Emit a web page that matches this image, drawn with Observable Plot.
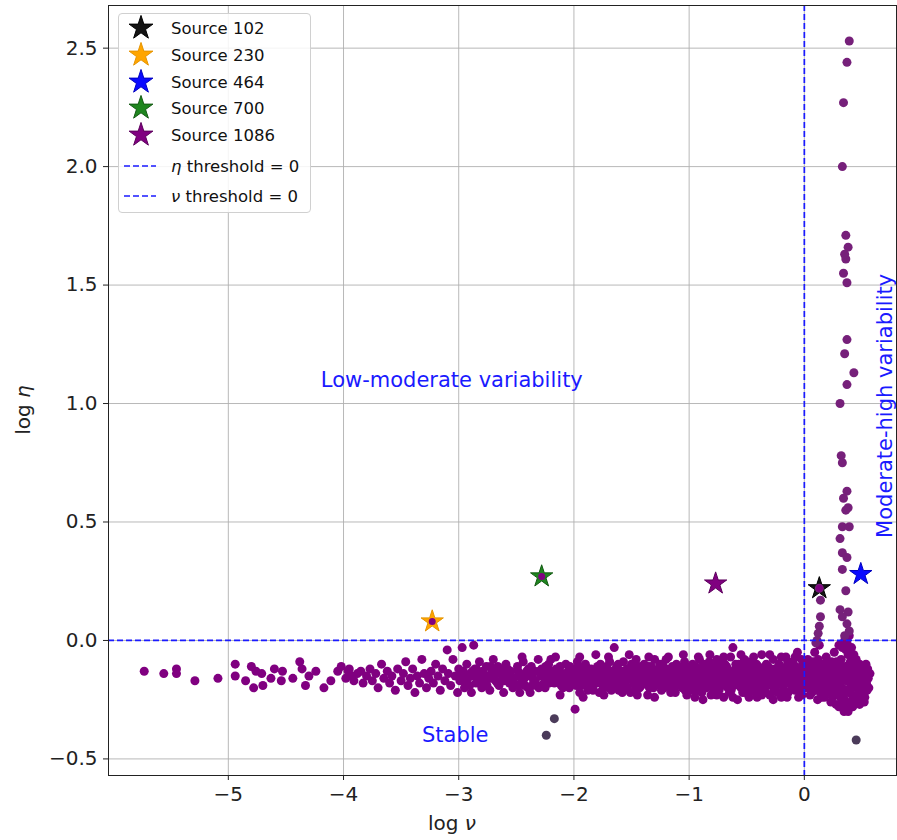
<!DOCTYPE html>
<html>
<head>
<meta charset="utf-8">
<script src="https://cdn.jsdelivr.net/npm/d3@7"></script>
<script src="https://cdn.jsdelivr.net/npm/@observablehq/plot@0.6"></script>
<style>
  body { margin: 0; background: #fff; font-family: "DejaVu Sans", sans-serif; }
  #wrap { position: relative; width: 897px; height: 840px; }
  #legend { position: absolute; left: 118px; top: 13px; width: 193px; height: 200px;
    border: 1px solid #d0d0d0; border-radius: 4px; background: rgba(255,255,255,0.85);
    box-sizing: border-box; font-size: 16.5px; color: #111; }
  .row { position: absolute; left: 0; height: 26px; display: flex; align-items: center; }
  .row svg { width: 44px; height: 26px; }
  .row span { margin-left: 8px; white-space: nowrap; }
</style>
</head>
<body>
<div id="wrap"></div>
<script>
// ---- data ----
const xTicks = [-5, -4, -3, -2, -1, 0];
const yTicks = [-0.5, 0, 0.5, 1, 1.5, 2, 2.5];

const sourceNames = ["Source 102", "Source 230", "Source 464", "Source 700", "Source 1086"];
const sourceNu = [0.13, -3.23, 0.49, -2.28, -0.77];
const sourceEta = [0.22, 0.08, 0.28, 0.27, 0.24];
const sourceFill = ["#141414", "#ffa500", "#0a0aff", "#1f861f", "#800080"];
const sourceStroke = ["#000000", "#e59400", "#0000c0", "#135a13", "#5c005c"];

const thresholdEta = 0;
const thresholdNu = 0;

// sparse low-ν tail
const tailPoints = [[-5.73,-0.13],[-5.56,-0.14],[-5.45,-0.12],[-5.45,-0.14],[-5.29,-0.17],[-5.09,-0.16],[-4.94,-0.10],[-4.94,-0.15],[-4.85,-0.17],[-4.80,-0.11],[-4.78,-0.20],[-4.76,-0.13],[-4.71,-0.14],[-4.70,-0.19],[-4.63,-0.16],[-4.60,-0.12],[-4.53,-0.13],[-4.54,-0.17],[-4.44,-0.16],[-4.38,-0.09],[-4.36,-0.12],[-4.33,-0.19],[-4.30,-0.15],[-4.24,-0.13],[-4.17,-0.20],[-4.11,-0.17],[-4.05,-0.13],[-4.02,-0.11],[-3.96,-0.13],[-3.93,-0.15]];

const bandA = [[-3.98,-0.16],[-3.95,-0.12],[-3.91,-0.17],[-3.88,-0.14],[-3.85,-0.13],[-3.83,-0.18],[-3.80,-0.15],[-3.77,-0.12],[-3.75,-0.17],[-3.72,-0.14],[-3.70,-0.20],[-3.67,-0.10],[-3.65,-0.16],[-3.62,-0.13],[-3.60,-0.18],[-3.58,-0.15],[-3.55,-0.21],[-3.53,-0.12],[-3.50,-0.17],[-3.48,-0.14],[-3.46,-0.09],[-3.44,-0.19],[-3.42,-0.16],[-3.40,-0.12],[-3.38,-0.22],[-3.36,-0.15],[-3.34,-0.18],[-3.32,-0.08],[-3.30,-0.14],[-3.28,-0.20],[-3.26,-0.16],[-3.24,-0.13],[-3.22,-0.18],[-3.20,-0.10],[-3.18,-0.15],[-3.16,-0.21],[-3.14,-0.12],[-3.12,-0.17],[-3.10,-0.04],[-3.09,-0.14],[-3.07,-0.19],[-3.05,-0.08],[-3.03,-0.15],[-3.01,-0.22],[-3.00,-0.12]];

const bandB = [[-2.99,-0.17],[-2.97,-0.03],[-2.96,-0.13],[-2.95,-0.20],[-2.93,-0.10],[-2.92,-0.16],[-2.90,-0.14],[-2.89,-0.22],[-2.87,-0.02],[-2.86,-0.12],[-2.85,-0.18],[-2.83,-0.15],[-2.82,-0.09],[-2.80,-0.20],[-2.79,-0.13],[-2.77,-0.17],[-2.76,-0.11],[-2.74,-0.15],[-2.73,-0.21],[-2.71,-0.13],[-2.70,-0.08],[-2.68,-0.17],[-2.67,-0.14],[-2.65,-0.19],[-2.64,-0.12],[-2.62,-0.16],[-2.61,-0.22],[-2.59,-0.10],[-2.58,-0.15],[-2.56,-0.18],[-2.55,-0.13],[-2.53,-0.20],[-2.52,-0.16],[-2.47,-0.22],[-2.49,-0.11],[-2.47,-0.14],[-2.46,-0.18],[-2.44,-0.09],[-2.43,-0.16],[-2.41,-0.13],[-2.40,-0.20],[-2.38,-0.15],[-2.37,-0.11],[-2.35,-0.17],[-2.34,-0.13],[-2.32,-0.19],[-2.31,-0.08],[-2.29,-0.15],[-2.28,-0.12],[-2.26,-0.18],[-2.25,-0.20],[-2.23,-0.14],[-2.22,-0.10],[-2.20,-0.16],[-2.19,-0.13],[-2.17,-0.18],[-2.16,-0.07],[-2.14,-0.15],[-2.13,-0.12],[-2.11,-0.19],[-2.10,-0.14],[-2.08,-0.17],[-2.07,-0.10],[-2.05,-0.13],[-2.04,-0.20],[-2.02,-0.16],[-2.01,-0.12],
[-2.98,-0.15],[-2.94,-0.18],[-2.88,-0.13],[-2.84,-0.16],[-2.78,-0.19],[-2.72,-0.16],[-2.66,-0.11],[-2.60,-0.14],[-2.54,-0.16],[-2.48,-0.19],[-2.42,-0.14],[-2.36,-0.19],[-2.30,-0.13],[-2.24,-0.16],[-2.18,-0.15],[-2.12,-0.11],[-2.06,-0.18],[-2.00,-0.15],
[-2.975,-0.14],[-2.935,-0.16],[-2.905,-0.19],[-2.875,-0.15],[-2.845,-0.12],[-2.815,-0.17],[-2.785,-0.14],[-2.755,-0.19],[-2.725,-0.11],[-2.695,-0.15],[-2.665,-0.18],[-2.635,-0.14],[-2.605,-0.17],[-2.575,-0.12],[-2.545,-0.15],[-2.515,-0.19],[-2.485,-0.13],[-2.455,-0.16],[-2.425,-0.19],[-2.395,-0.12],[-2.365,-0.15],[-2.335,-0.17],[-2.305,-0.20],[-2.275,-0.14],[-2.245,-0.11],[-2.215,-0.18],[-2.185,-0.15],[-2.155,-0.12],[-2.125,-0.17],[-2.095,-0.20],[-2.065,-0.15],[-2.035,-0.11],[-2.015,-0.18]];

const bandC = [[-1.99,-0.13],[-1.98,-0.19],[-1.97,-0.09],[-1.96,-0.16],[-1.95,-0.22],[-1.94,-0.12],[-1.93,-0.15],[-1.91,-0.18],[-1.90,-0.10],[-1.89,-0.14],[-1.88,-0.21],[-1.87,-0.17],[-1.85,-0.12],[-1.84,-0.15],[-1.83,-0.19],[-1.81,-0.06],[-1.80,-0.13],[-1.79,-0.17],[-1.78,-0.22],[-1.77,-0.10],[-1.75,-0.15],[-1.74,-0.12],[-1.73,-0.18],[-1.72,-0.14],[-1.70,-0.20],[-1.69,-0.09],[-1.68,-0.16],[-1.67,-0.13],[-1.65,-0.03],[-1.64,-0.18],[-1.63,-0.11],[-1.62,-0.15],[-1.61,-0.21],[-1.60,-0.13],[-1.58,-0.17],[-1.57,-0.09],[-1.56,-0.14],[-1.55,-0.19],[-1.54,-0.12],[-1.53,-0.16],[-1.51,-0.22],[-1.50,-0.10],[-1.49,-0.15],[-1.48,-0.18],[-1.47,-0.13],[-1.46,-0.08],[-1.44,-0.16],[-1.43,-0.20],[-1.42,-0.12],[-1.41,-0.14],[-1.40,-0.18],[-1.39,-0.10],[-1.38,-0.16],[-1.36,-0.23],[-1.35,-0.13],[-1.34,-0.17],[-1.33,-0.11],[-1.32,-0.15],[-1.31,-0.20],[-1.30,-0.08],[-1.28,-0.14],[-1.27,-0.18],[-1.26,-0.12],[-1.25,-0.16],[-1.24,-0.21],[-1.23,-0.10],[-1.21,-0.15],[-1.20,-0.13],[-1.19,-0.19],[-1.18,-0.07],[-1.17,-0.16],[-1.16,-0.12],[-1.14,-0.18],[-1.13,-0.14],[-1.12,-0.22],[-1.11,-0.10],[-1.10,-0.15],[-1.09,-0.17],[-1.07,-0.12],[-1.06,-0.20],[-1.05,-0.14],[-1.04,-0.09],[-1.03,-0.16],[-1.02,-0.19],[-1.01,-0.13],[-1.00,-0.17],
[-1.985,-0.15],[-1.945,-0.18],[-1.905,-0.13],[-1.865,-0.20],[-1.825,-0.14],[-1.785,-0.15],[-1.745,-0.20],[-1.705,-0.16],[-1.665,-0.19],[-1.625,-0.13],[-1.585,-0.15],[-1.545,-0.17],[-1.505,-0.13],[-1.465,-0.20],[-1.425,-0.16],[-1.385,-0.13],[-1.345,-0.20],[-1.305,-0.17],[-1.265,-0.14],[-1.225,-0.18],[-1.185,-0.15],[-1.145,-0.11],[-1.105,-0.19],[-1.065,-0.16],[-1.025,-0.11],
[-1.995,-0.17],[-1.975,-0.14],[-1.955,-0.11],[-1.935,-0.19],[-1.915,-0.15],[-1.895,-0.17],[-1.875,-0.12],[-1.855,-0.16],[-1.835,-0.21],[-1.815,-0.14],[-1.795,-0.11],[-1.775,-0.18],[-1.755,-0.13],[-1.735,-0.16],[-1.715,-0.11],[-1.695,-0.18],[-1.675,-0.21],[-1.655,-0.15],[-1.635,-0.17],[-1.615,-0.10],[-1.595,-0.19],[-1.575,-0.13],[-1.555,-0.16],[-1.535,-0.20],[-1.515,-0.15],[-1.495,-0.12],[-1.475,-0.17],[-1.455,-0.14],[-1.435,-0.11],[-1.415,-0.19],[-1.395,-0.15],[-1.375,-0.18],[-1.355,-0.11],[-1.335,-0.14],[-1.315,-0.12],[-1.295,-0.19],[-1.275,-0.16],[-1.255,-0.10],[-1.235,-0.14],[-1.215,-0.20],[-1.195,-0.12],[-1.175,-0.17],[-1.155,-0.14],[-1.135,-0.21],[-1.115,-0.16],[-1.095,-0.12],[-1.075,-0.18],[-1.055,-0.11],[-1.035,-0.21],[-1.015,-0.15]];

const bandD = [[-0.99,-0.14],[-0.98,-0.21],[-0.97,-0.10],[-0.96,-0.17],[-0.95,-0.24],[-0.94,-0.13],[-0.93,-0.16],[-0.92,-0.19],[-0.91,-0.08],[-0.90,-0.15],[-0.89,-0.22],[-0.88,-0.12],[-0.87,-0.18],[-0.86,-0.14],[-0.85,-0.20],[-0.84,-0.10],[-0.83,-0.16],[-0.82,-0.13],[-0.81,-0.23],[-0.80,-0.17],[-0.79,-0.11],[-0.78,-0.15],[-0.77,-0.19],[-0.76,-0.08],[-0.75,-0.14],[-0.74,-0.21],[-0.73,-0.12],[-0.72,-0.17],[-0.71,-0.15],[-0.70,-0.24],[-0.69,-0.10],[-0.68,-0.18],[-0.67,-0.13],[-0.66,-0.16],[-0.65,-0.22],[-0.64,-0.07],[-0.63,-0.14],[-0.62,-0.03],[-0.61,-0.19],[-0.60,-0.12],[-0.59,-0.16],[-0.58,-0.25],[-0.57,-0.10],[-0.56,-0.15],[-0.55,-0.20],[-0.54,-0.13],[-0.53,-0.17],[-0.52,-0.08],[-0.51,-0.22],[-0.50,-0.14],[-0.49,-0.11],[-0.48,-0.18],[-0.47,-0.15],[-0.46,-0.21],[-0.45,-0.09],[-0.44,-0.16],[-0.43,-0.13],[-0.42,-0.19],[-0.41,-0.24],[-0.40,-0.11],[-0.39,-0.15],[-0.38,-0.18],[-0.37,-0.06],[-0.36,-0.13],[-0.35,-0.21],[-0.34,-0.16],[-0.33,-0.10],[-0.32,-0.19],[-0.31,-0.14],[-0.30,-0.23],[-0.29,-0.12],[-0.28,-0.17],[-0.27,-0.08],[-0.26,-0.15],[-0.25,-0.20],[-0.24,-0.13],[-0.23,-0.18],[-0.22,-0.10],[-0.21,-0.16],[-0.20,-0.24],[-0.19,-0.12],[-0.18,-0.19],[-0.17,-0.14],[-0.16,-0.07],[-0.15,-0.17],[-0.14,-0.22],[-0.13,-0.11],[-0.12,-0.15],[-0.11,-0.19],[-0.10,-0.09],[-0.09,-0.13],[-0.08,-0.21],[-0.07,-0.16],[-0.06,-0.05],[-0.05,-0.12],[-0.04,-0.18],[-0.03,-0.14],[-0.02,-0.23],[-0.01,-0.10],[0.00,-0.17],
[-0.985,-0.18],[-0.945,-0.11],[-0.905,-0.20],[-0.865,-0.16],[-0.825,-0.09],[-0.785,-0.21],[-0.745,-0.17],[-0.705,-0.13],[-0.665,-0.20],[-0.625,-0.17],[-0.585,-0.14],[-0.545,-0.10],[-0.505,-0.19],[-0.465,-0.12],[-0.425,-0.22],[-0.385,-0.15],[-0.345,-0.12],[-0.305,-0.18],[-0.265,-0.21],[-0.225,-0.14],[-0.185,-0.16],[-0.145,-0.09],[-0.105,-0.18],[-0.065,-0.20],[-0.025,-0.08],
[-0.995,-0.16],[-0.975,-0.13],[-0.955,-0.19],[-0.935,-0.21],[-0.915,-0.12],[-0.895,-0.17],[-0.875,-0.10],[-0.855,-0.15],[-0.835,-0.19],[-0.815,-0.14],[-0.795,-0.12],[-0.775,-0.22],[-0.755,-0.16],[-0.735,-0.10],[-0.715,-0.19],[-0.695,-0.15],[-0.675,-0.11],[-0.655,-0.13],[-0.635,-0.21],[-0.615,-0.16],[-0.595,-0.10],[-0.575,-0.18],[-0.555,-0.13],[-0.535,-0.22],[-0.515,-0.16],[-0.495,-0.09],[-0.475,-0.20],[-0.455,-0.13],[-0.435,-0.17],[-0.415,-0.10],[-0.395,-0.21],[-0.375,-0.14],[-0.355,-0.17],[-0.335,-0.22],[-0.315,-0.11],[-0.295,-0.16],[-0.275,-0.19],[-0.255,-0.12],[-0.235,-0.22],[-0.215,-0.13],[-0.195,-0.16],[-0.175,-0.21],[-0.155,-0.11],[-0.135,-0.15],[-0.115,-0.13],[-0.095,-0.20],[-0.075,-0.11],[-0.055,-0.16],[-0.035,-0.21],[-0.015,-0.13],
[-0.97,-0.16],[-0.91,-0.15],[-0.85,-0.12],[-0.79,-0.18],[-0.73,-0.15],[-0.67,-0.18],[-0.61,-0.14],[-0.55,-0.17],[-0.49,-0.20],[-0.43,-0.15],[-0.37,-0.19],[-0.31,-0.17],[-0.25,-0.15],[-0.19,-0.19],[-0.13,-0.18],[-0.07,-0.13],[-0.01,-0.19]];

const bandE = [[0.01,-0.13],[0.02,-0.20],[0.03,-0.08],[0.04,-0.16],[0.05,-0.23],[0.06,-0.11],[0.07,-0.18],[0.08,-0.14],[0.09,-0.05],[0.10,-0.21],[0.11,-0.12],[0.12,-0.17],[0.13,-0.02],[0.14,-0.15],[0.15,-0.24],[0.16,-0.10],[0.17,-0.19],[0.18,-0.13],[0.19,-0.07],[0.20,-0.22],[0.21,-0.16],[0.22,-0.11],[0.23,-0.26],[0.24,-0.14],[0.25,-0.19],[0.26,-0.05],[0.27,-0.17],[0.28,-0.23],[0.29,-0.12],[0.30,-0.28],[0.31,-0.15],[0.32,-0.08],[0.33,-0.20],[0.34,-0.13],[0.35,-0.25],[0.36,-0.04],[0.37,-0.17],[0.38,-0.22],[0.39,-0.10],[0.40,-0.27],[0.41,-0.15],[0.42,-0.19],[0.43,-0.12],[0.44,-0.24],[0.45,-0.08],[0.46,-0.17],[0.47,-0.21],[0.48,-0.13],[0.49,-0.19],[0.50,-0.11],[0.51,-0.16],[0.52,-0.22],[0.53,-0.14],[0.54,-0.18],[0.55,-0.12],
[0.015,-0.17],[0.035,-0.12],[0.055,-0.19],[0.075,-0.09],[0.095,-0.16],[0.115,-0.25],[0.135,-0.20],[0.155,-0.13],[0.175,-0.24],[0.195,-0.15],[0.215,-0.20],[0.235,-0.09],[0.255,-0.12],[0.275,-0.27],[0.295,-0.19],[0.315,-0.24],[0.335,-0.16],[0.355,-0.11],[0.375,-0.28],[0.395,-0.18],[0.415,-0.23],[0.435,-0.16],[0.455,-0.20],[0.475,-0.26],[0.495,-0.15],[0.515,-0.19],[0.535,-0.10],[0.555,-0.16],[0.345,-0.30],[0.41,-0.03],[0.30,-0.02],[0.38,-0.06],
[0.025,-0.15],[0.065,-0.22],[0.105,-0.11],[0.145,-0.18],[0.185,-0.17],[0.225,-0.21],[0.265,-0.14],[0.305,-0.10],[0.325,-0.13],[0.365,-0.21],[0.405,-0.13],[0.445,-0.18],[0.485,-0.23],[0.525,-0.17],[0.545,-0.21],[0.285,-0.16],[0.245,-0.24],[0.205,-0.13],
[0.005,-0.10],[0.045,-0.20],[0.085,-0.12],[0.125,-0.14],[0.165,-0.16],[0.205,-0.18],[0.245,-0.11],[0.285,-0.21],[0.325,-0.25],[0.365,-0.14],[0.405,-0.20],[0.445,-0.11],[0.485,-0.17],[0.525,-0.24],[0.545,-0.14],
[0.02,-0.14],[0.06,-0.15],[0.10,-0.18],[0.14,-0.22],[0.18,-0.10],[0.22,-0.15],[0.26,-0.21],[0.30,-0.15],[0.34,-0.22],[0.38,-0.14],[0.42,-0.25],[0.46,-0.13],[0.50,-0.21],[0.54,-0.15],
[0.04,-0.09],[0.08,-0.20],[0.12,-0.08],[0.16,-0.21],[0.20,-0.09],[0.24,-0.18],[0.28,-0.09],[0.32,-0.17],[0.36,-0.26],[0.40,-0.09],[0.44,-0.14],[0.48,-0.10],[0.52,-0.13],
[0.33,-0.03],[0.35,0.00],[0.37,-0.01],[0.39,0.02],[0.43,-0.06]];

// upper and lower fringe of the dense band
const bandEdges = [[-2.45,-0.07],[-2.20,-0.08],[-1.95,-0.07],[-1.70,-0.07],[-1.52,-0.06],[-1.35,-0.07],[-1.20,-0.08],[-1.05,-0.06],[-0.92,-0.07],[-0.82,-0.06],[-0.70,-0.07],[-0.55,-0.06],[-0.44,-0.07],[-0.30,-0.06],[-0.20,-0.07],[-0.08,-0.07],
[-2.38,-0.22],[-2.12,-0.23],[-1.92,-0.24],[-1.74,-0.23],[-1.58,-0.22],[-1.45,-0.23],[-1.30,-0.24],[-1.16,-0.22],[-1.02,-0.23],[-0.88,-0.25],[-0.76,-0.23],[-0.62,-0.24],[-0.48,-0.24],[-0.37,-0.23],[-0.27,-0.25],[-0.15,-0.24],[-0.05,-0.24],
[0.42,-0.28],[0.48,-0.27],[0.52,-0.26],[0.38,-0.30],[0.33,-0.28],[0.56,-0.20],[0.57,-0.14]];

// streak under Source 102 and the high-η column
const streakPoints = [[0.14,0.17],[0.14,0.10],[0.13,0.06],[0.12,0.03],[0.11,0.00],[0.10,-0.01],[0.13,0.22],
[0.31,0.13],[0.38,0.12],[0.33,0.10],[0.37,0.07],[0.39,0.04],[0.35,0.02],[0.33,0.30],[0.36,0.21],[0.31,0.43],[0.33,0.37],[0.37,0.35],[0.33,0.48],[0.39,0.48],[0.37,0.63],[0.34,0.60],[0.38,0.56],[0.36,0.55],[0.32,0.78],[0.33,0.75],[0.31,1.00],
[0.37,1.08],[0.43,1.13],[0.35,1.21],[0.37,1.27],[0.37,1.51],[0.34,1.55],[0.36,1.61],[0.35,1.63],[0.38,1.66],[0.36,1.71],[0.33,2.00],[0.34,2.27],[0.37,2.44],[0.39,2.53]];

// source positions in the scatter (drawn on their stars)
const sourcePoints = [[0.13,0.22],[-3.23,0.08],[-2.28,0.27],[-0.77,0.24]];

const purpleOutliers = [[-1.99,-0.29]];
const darkOutliers = [[-2.24,-0.40],[-2.17,-0.33],[0.45,-0.42]];

const annotations = [
  {nu: -3.06, eta: 1.10, text: "Low-moderate variability", rotate: 0},
  {nu: -3.03, eta: -0.40, text: "Stable", rotate: 0},
  {nu: 0.70, eta: 0.99, text: "Moderate-high variability", rotate: -90}
];

// ---- chart ----
const toRows = arr => arr.map(([nu, eta]) => ({nu, eta}));
const mainRows = toRows([...tailPoints, ...bandA, ...bandB, ...bandC, ...bandD, ...bandE, ...bandEdges, ...purpleOutliers]);
const columnRows = toRows(streakPoints);
const fmt = d3.format(".1f");

const starMarks = sourceNames.map((name, i) =>
  Plot.dot([{nu: sourceNu[i], eta: sourceEta[i]}], {
    x: "nu", y: "eta", symbol: "star", r: 7,
    fill: sourceFill[i], stroke: sourceStroke[i], strokeWidth: 1
  })
);

const plot = Plot.plot({
  width: 897, height: 840,
  marginLeft: 108, marginRight: 1, marginTop: 5, marginBottom: 65,
  style: {fontFamily: "DejaVu Sans, sans-serif", fontSize: "20px", color: "#222", background: "transparent"},
  x: {domain: [-6.04, 0.80], label: null},
  y: {domain: [-0.57, 2.68], label: null},
  marks: [
    Plot.gridX(xTicks, {stroke: "#b0b0b0", strokeOpacity: 1, strokeWidth: 0.9}),
    Plot.gridY(yTicks, {stroke: "#b0b0b0", strokeOpacity: 1, strokeWidth: 0.9}),
    ...starMarks,
    Plot.dot(mainRows, {x: "nu", y: "eta", r: 4.5, fill: "#800080"}),
    Plot.dot(columnRows, {x: "nu", y: "eta", r: 4.5, fill: "#76207a"}),
    Plot.dot(toRows(sourcePoints), {x: "nu", y: "eta", r: 3.5, fill: "#800080"}),
    Plot.dot(toRows(darkOutliers), {x: "nu", y: "eta", r: 4.5, fill: "#4b3b5a"}),
    Plot.ruleY([thresholdEta], {stroke: "#1a1aff", strokeWidth: 1.7, strokeDasharray: "6,3"}),
    Plot.ruleX([thresholdNu], {stroke: "#1a1aff", strokeWidth: 1.7, strokeDasharray: "6,3"}),
    Plot.text(annotations.filter(d => d.rotate === 0), {x: "nu", y: "eta", text: "text", fill: "#1a1aff", fontSize: 21}),
    Plot.text(annotations.filter(d => d.rotate !== 0), {x: "nu", y: "eta", text: "text", fill: "#1a1aff", fontSize: 21, rotate: -90}),
    Plot.axisX(xTicks, {tickSize: 5, tickPadding: 6, tickFormat: d => d3.format("d")(d), fontSize: 20, stroke: "#222"}),
    Plot.axisY(yTicks, {tickSize: 5, tickPadding: 6, tickFormat: fmt, fontSize: 20, stroke: "#222"}),
    Plot.frame({stroke: "#222", strokeWidth: 1})
  ]
});

const wrap = document.getElementById("wrap");
wrap.appendChild(plot);

// axis titles with italic Greek letters
const svg = d3.select(plot);
const xt = svg.append("text").attr("x", 452).attr("y", 830).attr("text-anchor", "middle")
  .attr("font-size", 20).attr("fill", "#222");
xt.append("tspan").text("log ");
xt.append("tspan").attr("font-style", "italic").text("ν");
const yt = svg.append("text").attr("transform", "translate(30,410) rotate(-90)").attr("text-anchor", "middle")
  .attr("font-size", 20).attr("fill", "#222");
yt.append("tspan").text("log ");
yt.append("tspan").attr("font-style", "italic").text("η");

// legend
const legend = document.createElement("div");
legend.id = "legend";
wrap.appendChild(legend);
const rowTops = [1, 28, 55, 81, 108, 139, 169];
sourceNames.forEach((name, i) => {
  const row = document.createElement("div");
  row.className = "row";
  row.style.top = rowTops[i] + "px";
  const path = d3.symbol(d3.symbolStar, Math.PI * 7.5 * 7.5)();
  row.innerHTML = `<svg><path d="${path}" transform="translate(22,13)" fill="${sourceFill[i]}" stroke="${sourceStroke[i]}" stroke-width="1"/></svg><span>${name}</span>`;
  legend.appendChild(row);
});
[["η", "threshold = 0"], ["ν", "threshold = 0"]].forEach(([g, rest], j) => {
  const row = document.createElement("div");
  row.className = "row";
  row.style.top = rowTops[5 + j] + "px";
  row.innerHTML = `<svg><line x1="5" x2="37" y1="13" y2="13" stroke="#1a1aff" stroke-width="1.7" stroke-dasharray="6,3"/></svg><span><i>${g}</i> ${rest}</span>`;
  legend.appendChild(row);
});
</script>
</body>
</html>
